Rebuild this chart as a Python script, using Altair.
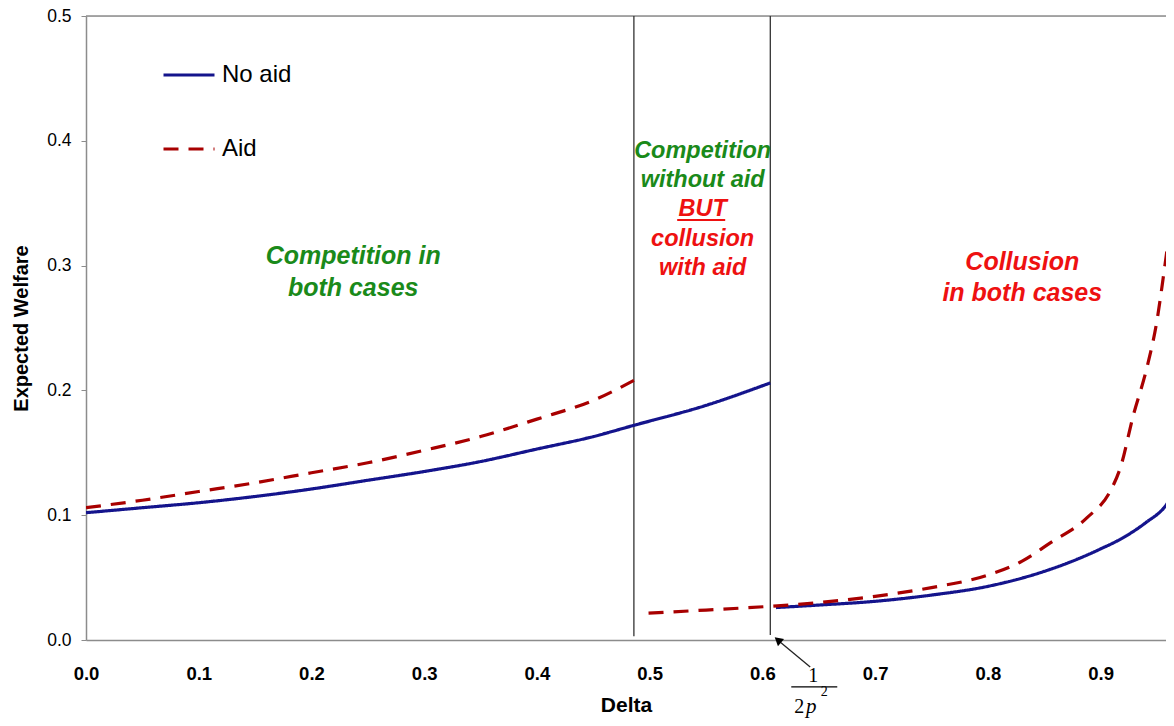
import altair as alt
import pandas as pd

# --- data ---
noaid_delta_1 = [0.0, 0.05, 0.1, 0.15, 0.2, 0.25, 0.3, 0.35, 0.4, 0.45, 0.486, 0.55, 0.607]
noaid_welf_1 = [0.102, 0.106, 0.110, 0.115, 0.121, 0.128, 0.135, 0.143, 0.153, 0.163, 0.172, 0.188, 0.206]

noaid_delta_2 = [0.612, 0.65, 0.7, 0.75, 0.8, 0.85, 0.88, 0.9, 0.92, 0.94, 0.958, 0.965]
noaid_welf_2 = [0.026, 0.028, 0.031, 0.036, 0.043, 0.055, 0.065, 0.073, 0.082, 0.094, 0.108, 0.118]

aid_delta_1 = [0.0, 0.05, 0.1, 0.15, 0.2, 0.25, 0.3, 0.35, 0.4, 0.45, 0.486]
aid_welf_1 = [0.106, 0.112, 0.119, 0.126, 0.134, 0.142, 0.152, 0.163, 0.177, 0.192, 0.208]

aid_delta_2 = [0.499, 0.55, 0.607, 0.65, 0.7, 0.75, 0.8, 0.83, 0.855, 0.888, 0.909, 0.9175,
               0.929, 0.941, 0.950, 0.957, 0.9636]
aid_welf_2 = [0.0215, 0.024, 0.027, 0.030, 0.035, 0.042, 0.052, 0.063, 0.0776, 0.098, 0.12, 0.138,
              0.18, 0.218, 0.256, 0.30, 0.344]

series_names = ["No aid", "Aid"]
x_ticks = [0.0, 0.1, 0.2, 0.3, 0.4, 0.5, 0.6, 0.7, 0.8, 0.9]
y_ticks = [0.0, 0.1, 0.2, 0.3, 0.4, 0.5]

threshold_1 = 0.486   # competition / collusion-with-aid boundary
threshold_2 = 0.607   # 1/(2p^2)

# annotation texts (data coordinates)
side_green = ["Competition in", "both cases"]
side_green_x = [0.237, 0.237]
side_green_y = [0.308, 0.2824]
mid_green = ["Competition", "without aid"]
mid_green_x = [0.547, 0.547]
mid_green_y = [0.392, 0.3688]
mid_red = ["BUT", "collusion", "with aid"]
mid_red_x = [0.547, 0.547, 0.547]
mid_red_y = [0.3456, 0.3216, 0.2984]
side_red = ["Collusion", "in both cases"]
side_red_x = [0.8305, 0.8305]
side_red_y = [0.3032, 0.2784]

BLUE = "#14148c"
DRED = "#a80000"
TRED = "#ee1111"
GREEN = "#1a8a1a"
GRAY = "#8c8c8c"

rows = []
for d, w in zip(noaid_delta_1, noaid_welf_1):
    rows.append({"delta": d, "welfare": w, "series": "No aid", "seg": "n1"})
for d, w in zip(noaid_delta_2, noaid_welf_2):
    rows.append({"delta": d, "welfare": w, "series": "No aid", "seg": "n2"})
for d, w in zip(aid_delta_1, aid_welf_1):
    rows.append({"delta": d, "welfare": w, "series": "Aid", "seg": "a1"})
for d, w in zip(aid_delta_2, aid_welf_2):
    rows.append({"delta": d, "welfare": w, "series": "Aid", "seg": "a2"})
df = pd.DataFrame(rows)

xscale = alt.Scale(domain=[0, 0.958], nice=False, zero=False)
yscale = alt.Scale(domain=[0, 0.5], nice=False)

x_enc = alt.X("delta:Q", scale=xscale, title="Delta",
              axis=alt.Axis(values=x_ticks, format=".1f", grid=False, ticks=False,
                            labelFontWeight="bold", labelFontSize=18.5, labelPadding=24,
                            labelColor="black", domainColor=GRAY, domainWidth=1.5,
                            titleFontSize=21, titleFontWeight="bold", titlePadding=12,
                            titleColor="black", labelFlush=False))
y_enc = alt.Y("welfare:Q", scale=yscale, title="Expected Welfare",
              axis=alt.Axis(values=y_ticks, format=".1f", grid=False, tickSize=5,
                            tickColor=GRAY, domainColor=GRAY, domainWidth=1.5,
                            labelFontSize=17.5, labelPadding=10, labelColor="black",
                            titleFontSize=20, titleFontWeight="bold", titlePadding=15,
                            titleColor="black"))

lines = alt.Chart(df).mark_line(strokeWidth=3.2, interpolate="monotone", clip=True).encode(
    x=x_enc,
    y=y_enc,
    color=alt.Color("series:N", scale=alt.Scale(domain=series_names, range=[BLUE, DRED]),
                    legend=alt.Legend(title=None, orient="none", legendX=76, legendY=32,
                                      symbolType="stroke", symbolSize=2601,
                                      symbolStrokeWidth=3, labelFontSize=24,
                                      labelColor="black", labelOffset=6, rowPadding=35)),
    strokeDash=alt.StrokeDash("series:N",
                              scale=alt.Scale(domain=series_names, range=[[1, 0], [15, 10]]),
                              legend=None),
    detail="seg:N",
)

top_border = alt.Chart(pd.DataFrame({"y": [0.5]})).mark_rule(color=GRAY, strokeWidth=1.5).encode(
    y=alt.Y("y:Q", scale=yscale)
)

vlines = alt.Chart(pd.DataFrame({"x": [threshold_1, threshold_2], "y": [0.5, 0.5],
                                 "y2": [0.003, 0.004]})).mark_rule(
    color="#333333", strokeWidth=1.3).encode(
    x=alt.X("x:Q", scale=xscale), y=alt.Y("y:Q", scale=yscale), y2="y2:Q"
)

arrow_line = alt.Chart(pd.DataFrame({"x": [0.6424], "y": [-0.0216], "x2": [0.6130], "y2": [0.0005]})).mark_rule(
    color="#222222", strokeWidth=1.3, clip=False).encode(
    x=alt.X("x:Q", scale=xscale), y=alt.Y("y:Q", scale=yscale), x2="x2:Q", y2="y2:Q"
)
arrow_head = alt.Chart(pd.DataFrame({"x": [0.6137], "y": [0.0001]})).mark_point(
    shape="triangle-up", filled=True, color="black", size=90, angle=310, opacity=1, clip=False).encode(
    x=alt.X("x:Q", scale=xscale), y=alt.Y("y:Q", scale=yscale)
)


def text_layer(texts, xs, ys, color, size):
    d = pd.DataFrame({"text": texts, "x": xs, "y": ys})
    return alt.Chart(d).mark_text(
        font="Liberation Sans", fontSize=size, fontWeight="bold", fontStyle="italic",
        color=color, align="center", baseline="middle").encode(
        x=alt.X("x:Q", scale=xscale), y=alt.Y("y:Q", scale=yscale), text="text:N")


t1 = text_layer(side_green, side_green_x, side_green_y, GREEN, 25)
t2 = text_layer(mid_green, mid_green_x, mid_green_y, GREEN, 23.5)
t3 = text_layer(mid_red, mid_red_x, mid_red_y, TRED, 23.5)
t4 = text_layer(side_red, side_red_x, side_red_y, TRED, 25)

underline = alt.Chart(pd.DataFrame({"x": [0.5244], "x2": [0.567], "y": [0.3365]})).mark_rule(
    color=TRED, strokeWidth=2).encode(
    x=alt.X("x:Q", scale=xscale), x2="x2:Q", y=alt.Y("y:Q", scale=yscale))

frac_line = alt.Chart(pd.DataFrame({"x": [0.6256], "x2": [0.6664], "y": [-0.0376]})).mark_rule(
    color="black", strokeWidth=1.2, clip=False).encode(
    x=alt.X("x:Q", scale=xscale), x2="x2:Q", y=alt.Y("y:Q", scale=yscale))

frac_up = alt.Chart(pd.DataFrame({"text": ["1", "2"], "x": [0.6451, 0.6327], "y": [-0.0336, -0.0584]})).mark_text(
    font="Liberation Serif", fontSize=20, color="black", align="center", baseline="alphabetic",
    clip=False).encode(x=alt.X("x:Q", scale=xscale), y=alt.Y("y:Q", scale=yscale), text="text:N")
frac_p = alt.Chart(pd.DataFrame({"text": ["p"], "x": [0.6433], "y": [-0.0584]})).mark_text(
    font="Liberation Serif", fontSize=21, fontStyle="italic", color="black", align="center",
    baseline="alphabetic", clip=False).encode(
    x=alt.X("x:Q", scale=xscale), y=alt.Y("y:Q", scale=yscale), text="text:N")
frac_sup = alt.Chart(pd.DataFrame({"text": ["2"], "x": [0.6548], "y": [-0.0448]})).mark_text(
    font="Liberation Serif", fontSize=14, color="black", align="center", baseline="alphabetic",
    clip=False).encode(x=alt.X("x:Q", scale=xscale), y=alt.Y("y:Q", scale=yscale), text="text:N")

chart = alt.layer(
    top_border, vlines, lines, arrow_line, arrow_head, t1, t2, t3, t4, underline,
    frac_line, frac_up, frac_p, frac_sup
).properties(
    width=1080, height=624,
    autosize=alt.AutoSizeParams(type="none"),
    padding={"left": 78, "top": 8, "right": 0, "bottom": 78},
).configure_view(stroke=None).configure(
    font="Liberation Sans"
).configure_axis(labelFont="Liberation Sans", titleFont="Liberation Sans"
).configure_legend(labelFont="Liberation Sans")

chart.save("out.html", embed_options={"renderer": "svg", "actions": False})
